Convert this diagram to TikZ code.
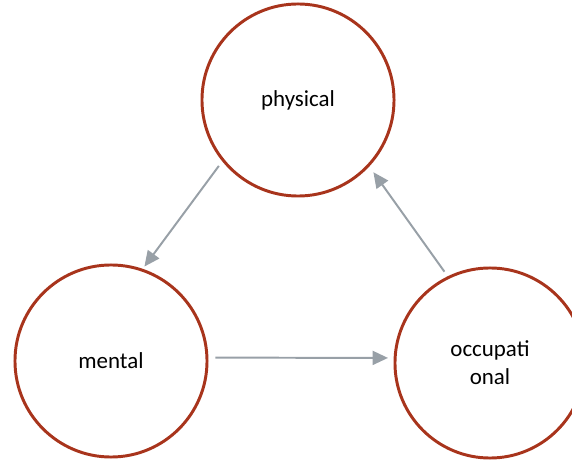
\documentclass[tikz,border=0pt]{standalone}
\usepackage{fontspec}
\setmainfont{Carlito}
\usetikzlibrary{arrows.meta}
\definecolor{ringred}{RGB}{168,52,28}
\definecolor{arrowgray}{RGB}{152,160,167}
\tikzset{
  ring/.style={circle, draw=ringred, line width=2.1pt, minimum size=4.8cm, align=center, font=\fontsize{16.3}{20}\selectfont},
  link/.style={draw=arrowgray, line width=1.4pt, -{Triangle[length=11pt,width=10pt]}}
}

\begin{document}
\begin{tikzpicture}[x=0.025cm, y=0.025cm]
            \useasboundingbox (0,0) rectangle (572,461);
            \node[ring] (phys) at (298,361) {physical};
            \node[ring] (ment) at (111,100) {mental};
            \node[ring, minimum size=4.75cm] (occ) at (490,98) {occupati\\onal};
            \draw[link, shorten <=4pt, shorten >=2pt] (phys.219) -- (ment.71);
            \draw[link, shorten <=5pt, shorten >=4pt] (ment.2) -- (occ.177);
            \draw[link, shorten <=4pt, shorten >=5pt] (occ.116) -- (phys.317);
        \end{tikzpicture}
\end{document}
